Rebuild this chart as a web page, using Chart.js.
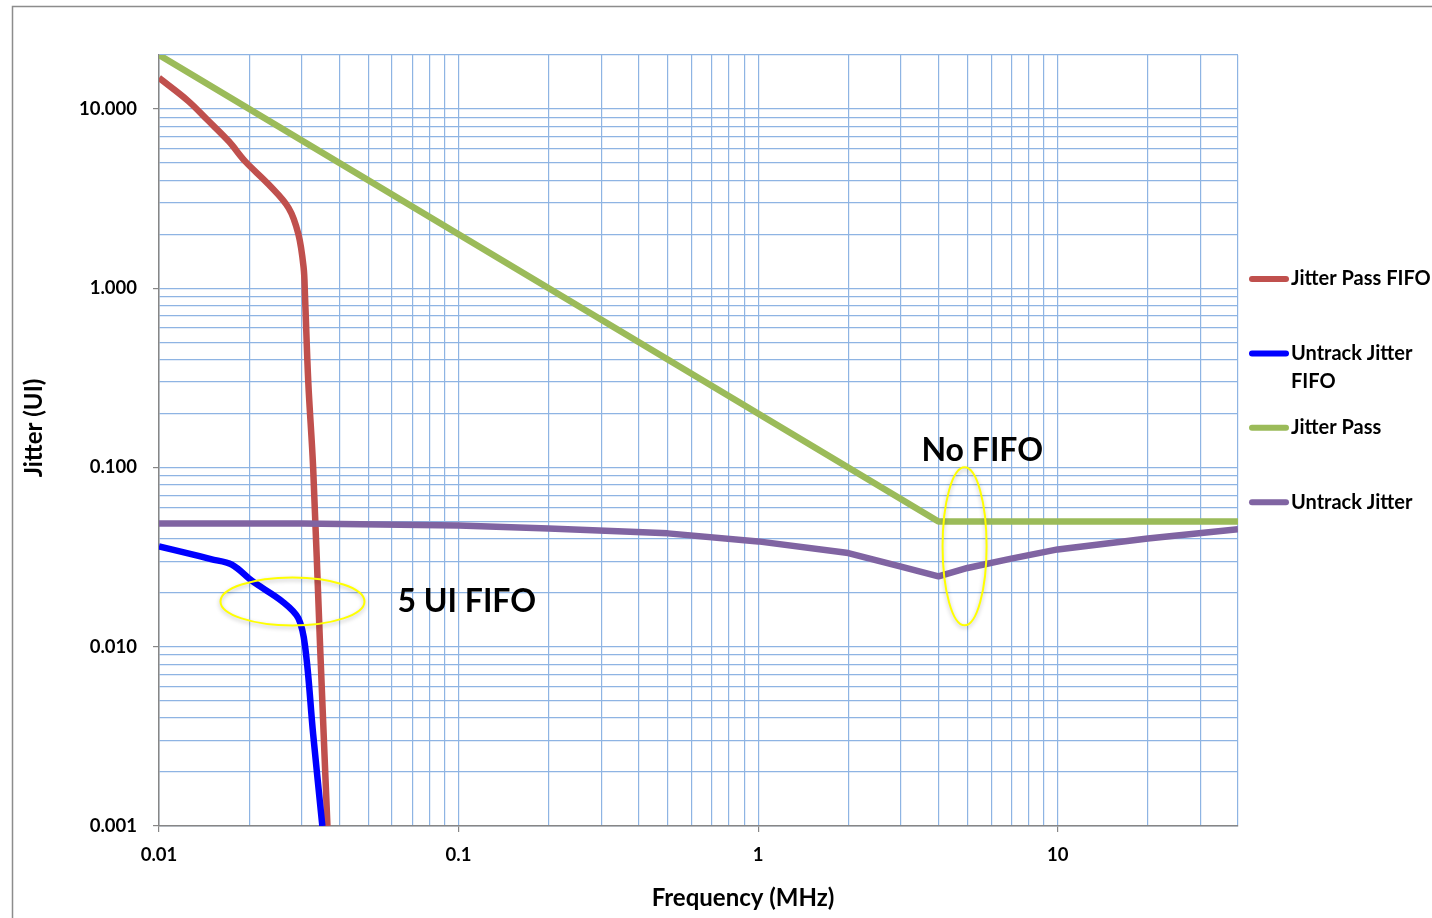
<!DOCTYPE html>
<html>
<head>
<meta charset="utf-8">
<script src="https://cdn.jsdelivr.net/npm/chart.js@4.4.1/dist/chart.umd.min.js"></script>
<style>
  html, body { margin: 0; padding: 0; background: #fff; }
  #wrap { width: 1432px; height: 918px; }
</style>
</head>
<body>
<div id="wrap"><canvas id="myChart" width="1432" height="918"></canvas></div>
<script>
// series: frequency (MHz) / jitter (UI)
const passFifoX = [0.01, 0.0125, 0.0145, 0.0171, 0.0194, 0.0232, 0.0271, 0.0292, 0.0304, 0.0307, 0.0315, 0.0327, 0.0345, 0.0365];
const passFifoY = [14.9, 11.1, 8.7, 6.6, 5.1, 3.8, 2.8, 2.0, 1.3, 0.93, 0.3, 0.1, 0.01, 0.001];

const untrackFifoX = [0.01, 0.0125, 0.0149, 0.0175, 0.0205, 0.0258, 0.0292, 0.0308, 0.0327, 0.0351];
const untrackFifoY = [0.0363, 0.0332, 0.0308, 0.0287, 0.0232, 0.0179, 0.0144, 0.0098, 0.00326, 0.001];

const passX = [0.01, 4, 40];
const passY = [20, 0.05, 0.05];

const untrackX = [0.01, 0.03, 0.1, 0.2, 0.5, 1, 2, 3, 4, 5, 7, 10, 20, 40];
const untrackY = [0.0487, 0.0487, 0.0475, 0.0457, 0.0429, 0.0387, 0.0333, 0.028, 0.0247, 0.0275, 0.031, 0.0349, 0.0402, 0.0452];

const seriesNames = ['Jitter Pass FIFO', 'Untrack Jitter FIFO', 'Jitter Pass', 'Untrack Jitter'];
const seriesColors = ['#C0504D', '#0000FF', '#9BBB59', '#8064A2'];

const xMajor = [0.01, 0.1, 1, 10];
const yMajor = [0.001, 0.01, 0.1, 1, 10];

const fontFam = 'Lato, "Open Sans", sans-serif';

function pts(xs, ys) {
  return xs.map((x, i) => ({x: x, y: ys[i]}));
}

function logGrid(min, max) {
  const out = [];
  for (let e = -4; e <= 3; e++) {
    for (let m = 1; m <= 9; m++) {
      const v = +(m * Math.pow(10, e)).toPrecision(3);
      if (v >= min * 0.999 && v <= max * 1.001) out.push(v);
    }
  }
  return out;
}

function isMajor(list, v) {
  return list.some(m => Math.abs(m - v) / m < 1e-6);
}

const frameAndNotes = {
  id: 'frameAndNotes',
  beforeDraw(chart) {
    const c = chart.ctx;
    c.save();
    c.strokeStyle = '#8c8c8c';
    c.lineWidth = 1.5;
    c.beginPath();
    c.moveTo(12.5, 918);
    c.lineTo(12.5, 6.5);
    c.lineTo(1432, 6.5);
    c.stroke();
    c.restore();
  },
  afterDatasetsDraw(chart) {
    const c = chart.ctx;
    const xs = chart.scales.x, ys = chart.scales.y;
    c.save();
    // yellow ellipses
    c.strokeStyle = '#FFFF00';
    c.lineWidth = 2;
    c.shadowColor = 'rgba(0,0,0,0.25)';
    c.shadowBlur = 4;
    c.shadowOffsetY = 2;
    c.beginPath();
    c.ellipse(xs.getPixelForValue(0.0279), ys.getPixelForValue(0.0179), 72, 24, 0, 0, Math.PI * 2);
    c.stroke();
    c.beginPath();
    c.ellipse(xs.getPixelForValue(4.89), ys.getPixelForValue(0.0363), 22, 79, 0, 0, Math.PI * 2);
    c.stroke();
    c.restore();

    c.save();
    c.fillStyle = '#000';
    c.font = 'bold 32px ' + fontFam;
    c.textBaseline = 'middle';
    c.textAlign = 'left';
    c.fillText('5 UI FIFO', xs.getPixelForValue(0.0625), ys.getPixelForValue(0.0179));
    c.fillText('No FIFO', xs.getPixelForValue(3.51), ys.getPixelForValue(0.1244));

    // axis titles
    c.font = 'bold 24px ' + fontFam;
    c.textAlign = 'center';
    c.fillText('Frequency (MHz)', 743, 898);
    c.translate(34, 428);
    c.rotate(-Math.PI / 2);
    c.fillText('Jitter (UI)', 0, 0);
    c.restore();

    // legend
    c.save();
    c.font = 'bold 20px ' + fontFam;
    c.textBaseline = 'middle';
    c.textAlign = 'left';
    c.lineCap = 'round';
    c.lineWidth = 6;
    chart.data.datasets.forEach((ds, i) => {
      const y = 279 + i * 74.4;
      c.strokeStyle = ds.borderColor;
      c.beginPath();
      c.moveTo(1252, y);
      c.lineTo(1286, y);
      c.stroke();
      c.fillStyle = '#000';
      // wrap long labels
      const words = ds.label.split(' ');
      const lines = [];
      let cur = '';
      words.forEach(w => {
        const t = cur ? cur + ' ' + w : w;
        if (c.measureText(t).width > 142 && cur) { lines.push(cur); cur = w; } else { cur = t; }
      });
      lines.push(cur);
      lines.forEach((ln, j) => c.fillText(ln, 1291, y + j * 28));
    });
    c.restore();
  }
};

const ctx = document.getElementById('myChart');

new Chart(ctx, {
  type: 'line',
  data: {
    datasets: [
      {label: seriesNames[0], data: pts(passFifoX, passFifoY), borderColor: seriesColors[0], order: 4, tension: 0.35},
      {label: seriesNames[1], data: pts(untrackFifoX, untrackFifoY), borderColor: seriesColors[1], order: 3, tension: 0.35},
      {label: seriesNames[2], data: pts(passX, passY), borderColor: seriesColors[2], order: 2, tension: 0},
      {label: seriesNames[3], data: pts(untrackX, untrackY), borderColor: seriesColors[3], order: 1, tension: 0}
    ]
  },
  options: {
    responsive: false,
    animation: false,
    layout: { padding: { left: 0, top: 55, right: 194, bottom: 0 } },
    elements: {
      point: { radius: 0 },
      line: { borderWidth: 6.5, borderCapStyle: 'butt', borderJoinStyle: 'round' }
    },
    plugins: {
      legend: { display: false },
      tooltip: { enabled: false }
    },
    scales: {
      x: {
        type: 'logarithmic',
        min: 0.01,
        max: 40,
        afterFit: s => { s.height = 92; },
        afterBuildTicks: s => { s.ticks = logGrid(0.01, 40).map(v => ({value: v})); },
        border: { color: '#868686', width: 1.5 },
        grid: {
          color: '#8EB4E3',
          lineWidth: 1.2,
          tickLength: 6,
          tickColor: c => isMajor(xMajor, c.tick.value) ? '#868686' : 'rgba(0,0,0,0)'
        },
        ticks: {
          autoSkip: false,
          maxRotation: 0,
          padding: 12,
          color: '#000',
          font: { family: fontFam, size: 18.5, weight: 'bold' },
          callback: v => isMajor(xMajor, v) ? String(+v.toPrecision(3)) : ''
        }
      },
      y: {
        type: 'logarithmic',
        min: 0.001,
        max: 20,
        afterFit: s => { s.width = 159; },
        afterBuildTicks: s => { s.ticks = logGrid(0.001, 20).map(v => ({value: v})); },
        border: { color: '#868686', width: 1.5 },
        grid: {
          color: '#8EB4E3',
          lineWidth: 1.2,
          tickLength: 6,
          tickColor: c => isMajor(yMajor, c.tick.value) ? '#868686' : 'rgba(0,0,0,0)'
        },
        ticks: {
          autoSkip: false,
          padding: 16,
          color: '#000',
          font: { family: fontFam, size: 18.5, weight: 'bold' },
          callback: v => isMajor(yMajor, v) ? v.toFixed(3) : ''
        }
      }
    }
  },
  plugins: [frameAndNotes]
});
</script>
</body>
</html>
